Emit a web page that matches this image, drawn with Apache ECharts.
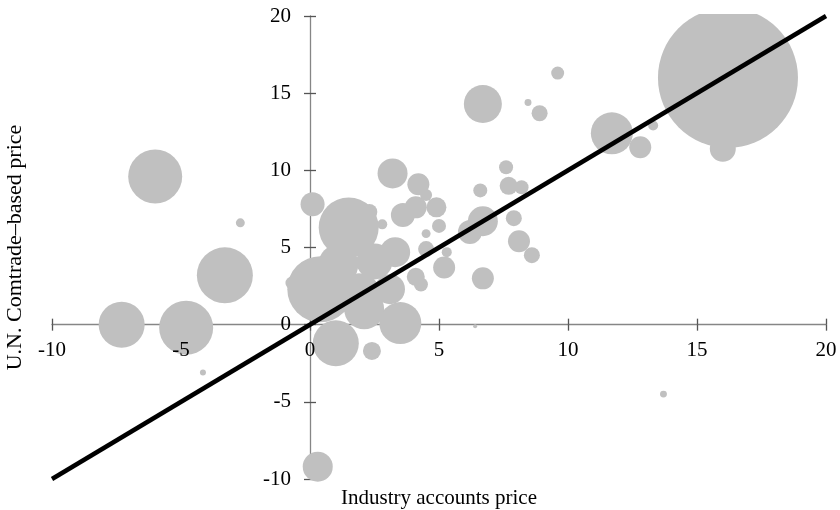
<!DOCTYPE html>
<html lang="en">
<head>
    <meta charset="UTF-8">
    <title>Industry accounts vs U.N. Comtrade prices</title>
    <script src="https://cdn.jsdelivr.net/npm/echarts@6/dist/echarts.min.js"></script>
    <style>
        * { margin: 0; padding: 0; box-sizing: border-box; }
        body { background: #fff; }
        #chart { width: 840px; height: 510px; }
    </style>
</head>
<body>
    <div id="chart"></div>
    <script>
        // industry accounts price (x), comtrade-based price (y), bubble weight
        const xs = [16.2, 16.0, 11.7, 12.8, 13.3, 9.6, 6.7, 8.45, 8.9, 3.2,
                    4.2, 4.5, 3.6, 4.1, 4.9, 5.0, 4.5, 2.8, 7.6, 7.7,
                    8.2, 6.6, 6.7, 6.2, 7.9, 8.1, 8.6, 6.7, 5.2, 5.3,
                    4.5, 4.1, 4.3, 0.1, 1.5, 0.4, 3.5, 1.0, 2.4, -0.7,
                    6.4, -2.7, -6.0, -3.3, -7.3, -4.8, -4.15, 0.3, 13.7, 1.9,
                    2.5, 3.3, 1.1, 2.3, 2.1, 3.1];
        const ys = [16.0, 11.4, 12.4, 11.5, 12.9, 16.3, 14.3, 14.4, 13.7, 9.8,
                    9.1, 8.4, 7.1, 7.6, 7.6, 6.4, 5.9, 6.5, 10.2, 9.0,
                    8.9, 8.7, 6.7, 6.0, 6.9, 5.4, 4.5, 3.0, 3.7, 4.7,
                    4.9, 3.1, 2.6, 7.8, 6.3, 2.3, 0.1, -1.2, -1.7, 2.7,
                    -0.1, 6.6, 9.6, 3.2, 0.0, -0.2, -3.1, -9.2, -4.5, 1.9,
                    4.1, 4.7, 3.9, 7.3, 1.0, 2.3];
        const weights = [4900, 169, 441, 121, 25, 42, 361, 12, 64, 225,
                         121, 36, 144, 121, 100, 49, 20, 25, 49, 81,
                         49, 49, 225, 144, 64, 121, 64, 121, 121, 25,
                         64, 81, 49, 144, 900, 1089, 441, 529, 81, 42,
                         4, 20, 729, 784, 529, 729, 9, 225, 12, 484,
                         324, 225, 400, 64, 400, 225];
        const xRange = [-10, 20];
        const yRange = [-10, 20];
        const parityLine = [[-10, -10], [20, 20]];

        const font = 'Liberation Serif';
        const axisGray = '#868686';
        const tickGray = '#555';

        const bubbles = xs.map((x, i) => [x, ys[i], weights[i]]);

        // plot area in pixels; the visible axes sit on the zero lines
        const plot = { left: 52, right: 14, top: 16, bottom: 31 };
        const plotW = 840 - plot.left - plot.right;
        const plotH = 510 - plot.top - plot.bottom;
        const zeroX = plot.left + (0 - xRange[0]) / (xRange[1] - xRange[0]) * plotW;
        const zeroY = plot.top + (yRange[1] - 0) / (yRange[1] - yRange[0]) * plotH;

        const hidden = (range, gridIndex) => ({
            type: 'value', gridIndex, min: range[0], max: range[1], interval: 5, show: false
        });
        // line + ticks (under the bubbles) or labels only (over the bubbles)
        const axisPart = (range, gridIndex, position, part, extra) => Object.assign({
            type: 'value', gridIndex, position,
            min: range[0], max: range[1], interval: 5,
            splitLine: { show: false },
            axisLine: { show: part === 'out', onZero: false, lineStyle: { color: axisGray, width: 1.3 } },
            axisTick: { show: part !== 'label', inside: part === 'in', length: 6, lineStyle: { color: tickGray, width: 1.3 } },
            axisLabel: { show: false },
            z: part === 'label' ? 10 : 0
        }, extra || {});

        const chart = echarts.init(document.getElementById('chart'));
        chart.setOption({
            animation: false,
            grid: [
                Object.assign({ containLabel: false, outerBoundsMode: 'none' }, plot),
                { left: plot.left, right: plot.right, top: plot.top, bottom: 510 - zeroY, containLabel: false, outerBoundsMode: 'none' },
                { left: zeroX, right: plot.right, top: plot.top, bottom: plot.bottom, containLabel: false, outerBoundsMode: 'none' }
            ],
            xAxis: [
                hidden(xRange, 0),
                axisPart(xRange, 1, 'bottom', 'out'),
                axisPart(xRange, 1, 'bottom', 'in'),
                axisPart(xRange, 1, 'bottom', 'label', {
                    name: 'Industry accounts price',
                    nameLocation: 'middle',
                    nameGap: 163,
                    nameTextStyle: { fontFamily: font, fontSize: 21, color: '#000' },
                    axisLabel: { show: true, fontFamily: font, fontSize: 21, color: '#000', margin: 15, showMinLabel: true, showMaxLabel: true }
                }),
                hidden(xRange, 2)
            ],
            yAxis: [
                hidden(yRange, 0),
                hidden(yRange, 1),
                axisPart(yRange, 2, 'left', 'out'),
                axisPart(yRange, 2, 'left', 'in'),
                axisPart(yRange, 2, 'left', 'label', {
                    name: 'U.N. Comtrade\u2013based price',
                    nameLocation: 'middle',
                    nameGap: 284,
                    nameTextStyle: { fontFamily: font, fontSize: 22, color: '#000' },
                    axisLabel: { show: true, fontFamily: font, fontSize: 21, color: '#000', margin: 19, showMinLabel: true, showMaxLabel: true }
                })
            ],
            series: [
                {
                    type: 'scatter',
                    xAxisIndex: 0,
                    yAxisIndex: 0,
                    data: bubbles,
                    symbolSize: d => 2 * Math.sqrt(d[2]),
                    itemStyle: { color: '#c0c0c0', opacity: 1 },
                    z: 2
                },
                {
                    type: 'line',
                    xAxisIndex: 0,
                    yAxisIndex: 0,
                    data: parityLine,
                    symbol: 'none',
                    lineStyle: { color: '#000', width: 4.5 },
                    z: 3
                }
            ],
            // trims the big bubble at the plot's top edge
            graphic: [{
                type: 'rect',
                shape: { x: 320, y: 0, width: 520, height: 14 },
                style: { fill: '#fff' },
                z: 100
            }]
        });
    </script>
</body>
</html>
